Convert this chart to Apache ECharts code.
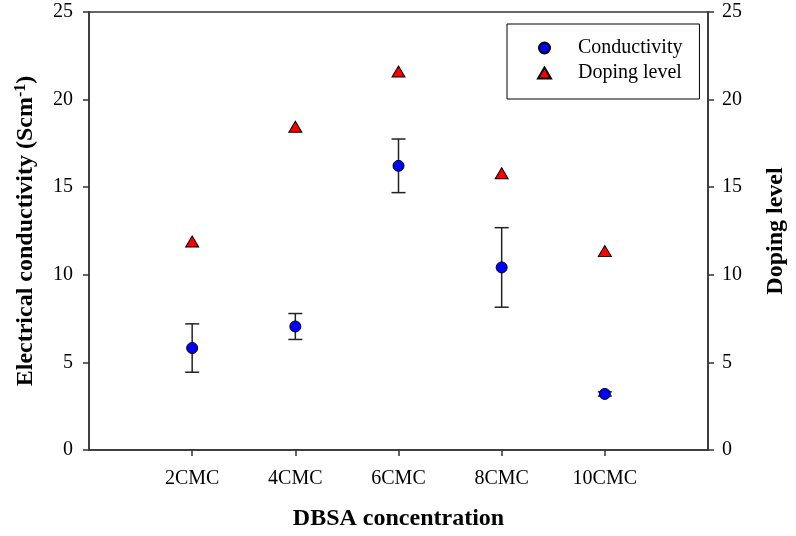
<!DOCTYPE html>
<html>
<head>
<meta charset="utf-8">
<script src="https://cdn.jsdelivr.net/npm/echarts@6/dist/echarts.min.js"></script>
<style>html,body{margin:0;padding:0;background:#fff}#c{width:796px;height:536px}</style>
</head>
<body>
<div id="c"></div>
<script>
const categories = ['2CMC', '4CMC', '6CMC', '8CMC', '10CMC'];
const conductivity = [5.82, 7.05, 16.22, 10.42, 3.2];
const conductivityErr = [1.38, 0.74, 1.53, 2.27, 0.12];
const dopingLevel = [11.9, 18.45, 21.6, 15.8, 11.35];
const yTicks = [0, 5, 10, 15, 20, 25];

const FONT = 'Liberation Serif';
const AX = '#333';

const condData = conductivity.map((v, i) => [i + 1, v]);
const errData = conductivity.map((v, i) => [i + 1, v - conductivityErr[i], v + conductivityErr[i]]);
const dopData = dopingLevel.map((v, i) => [i + 1, v]);
const tickPos = categories.map((c, i) => i + 1);

const chart = echarts.init(document.getElementById('c'), null, {renderer: 'canvas'});
chart.setOption({
  animation: false,
  backgroundColor: '#fff',
  grid: {left: 89, right: 86, top: 12, bottom: 86, show: true, borderColor: AX, borderWidth: 1.5, backgroundColor: 'transparent'},
  legend: {
    orient: 'vertical',
    left: 507, top: 24,
    itemWidth: 13, itemHeight: 11,
    itemGap: 5,
    padding: [14, 17, 16, 30],
    borderColor: '#000', borderWidth: 1,
    textStyle: {fontFamily: FONT, fontSize: 20, color: '#000', padding: [0, 0, 0, 22], lineHeight: 20},
    data: ['Conductivity', 'Doping level']
  },
  xAxis: {
    type: 'value', min: 0, max: 6, interval: 1,
    name: 'DBSA concentration', nameLocation: 'middle', nameGap: 57,
    nameTextStyle: {fontFamily: FONT, fontSize: 24, fontWeight: 'bold', color: '#000'},
    axisLine: {show: true, lineStyle: {color: AX, width: 1.5}},
    axisTick: {show: true, length: 6, lineStyle: {color: AX, width: 1.5}, customValues: tickPos},
    axisLabel: {fontFamily: FONT, fontSize: 20, color: '#000', margin: 19, customValues: tickPos,
      formatter: v => categories[Math.round(v) - 1] || ''},
    splitLine: {show: false}
  },
  yAxis: [{
    type: 'value', min: 0, max: 25, interval: 5, position: 'left',
    name: '{t|Electrical conductivity (Scm}{s|-1}{t|)}', nameLocation: 'middle', nameGap: 50,
    nameTextStyle: {rich: {
      t: {fontFamily: FONT, fontSize: 24, fontWeight: 'bold', color: '#000'},
      s: {fontFamily: FONT, fontSize: 16, fontWeight: 'bold', color: '#000', verticalAlign: 'top', padding: [0, 0, 10, 0]}
    }},
    axisLine: {show: true, lineStyle: {color: AX, width: 1.5}},
    axisTick: {show: true, length: 6, lineStyle: {color: AX, width: 1.5}},
    axisLabel: {fontFamily: FONT, fontSize: 20, color: '#000', margin: 16, formatter: v => yTicks.includes(v) ? String(v) : ''},
    splitLine: {show: false}
  }, {
    type: 'value', min: 0, max: 25, interval: 5, position: 'right',
    name: 'Doping level', nameLocation: 'middle', nameGap: 56, nameRotate: 90,
    nameTextStyle: {fontFamily: FONT, fontSize: 24, fontWeight: 'bold', color: '#000'},
    axisLine: {show: true, lineStyle: {color: AX, width: 1.5}},
    axisTick: {show: true, length: 6, lineStyle: {color: AX, width: 1.5}},
    axisLabel: {fontFamily: FONT, fontSize: 20, color: '#000', margin: 14},
    splitLine: {show: false}
  }],
  series: [{
    type: 'custom',
    name: 'errorbars',
    yAxisIndex: 0,
    data: errData,
    z: 2,
    silent: true,
    renderItem: function (params, api) {
      const x = api.value(0);
      const lo = api.coord([x, api.value(1)]);
      const hi = api.coord([x, api.value(2)]);
      const hw = 7;
      const st = {stroke: '#222', lineWidth: 1.5};
      return {type: 'group', children: [
        {type: 'line', shape: {x1: lo[0], y1: lo[1], x2: hi[0], y2: hi[1]}, style: st},
        {type: 'line', shape: {x1: lo[0] - hw, y1: lo[1], x2: lo[0] + hw, y2: lo[1]}, style: st},
        {type: 'line', shape: {x1: hi[0] - hw, y1: hi[1], x2: hi[0] + hw, y2: hi[1]}, style: st}
      ]};
    }
  }, {
    type: 'scatter', name: 'Conductivity', yAxisIndex: 0, data: condData, z: 5,
    symbol: 'circle', symbolSize: 11,
    itemStyle: {color: '#0000ff', borderColor: '#000', borderWidth: 1, opacity: 1}
  }, {
    type: 'scatter', name: 'Doping level', yAxisIndex: 1, data: dopData, z: 5,
    symbol: 'triangle', symbolSize: [13, 11],
    itemStyle: {color: '#ff0000', borderColor: '#000', borderWidth: 1, opacity: 1}
  }]
});
</script>
</body>
</html>
